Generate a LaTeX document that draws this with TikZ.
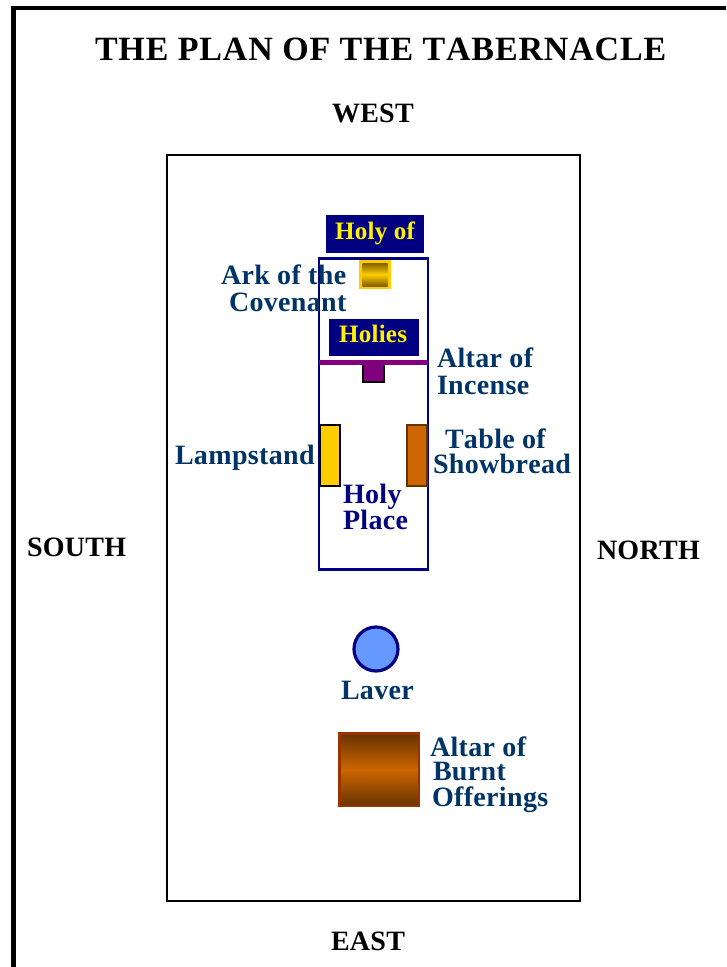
\documentclass[tikz,border=0pt]{standalone}
\usepackage{fontspec}
\setmainfont{Liberation Serif}
\newfontfamily\spacedA[LetterSpace=2.5,Kerning=Off]{Liberation Serif}
\newfontfamily\spacedB[LetterSpace=1.0]{Liberation Serif}
\newfontfamily\spacedD[LetterSpace=1.2,Kerning=Off]{Liberation Serif}
\newfontfamily\spacedC[LetterSpace=1.0,Kerning=Off]{Liberation Serif}
\definecolor{lbl}{HTML}{003366}
\definecolor{nv}{HTML}{000080}
\definecolor{gold}{HTML}{FFCC00}
\definecolor{darkgold}{HTML}{806000}
\definecolor{burnt}{HTML}{CC6600}
\definecolor{burntdark}{HTML}{663300}
\definecolor{rim}{HTML}{993300}
\definecolor{pur}{HTML}{800080}
\definecolor{water}{HTML}{6699FF}
\tikzset{
  x=0.75pt,y=-0.75pt,
  txt/.style={inner sep=0,outer sep=0,anchor=base west},
  dir/.style={txt,font=\spacedB\bfseries\fontsize{21pt}{21pt}\selectfont,text=black},
  item/.style={txt,font=\spacedD\bfseries\fontsize{21pt}{21pt}\selectfont,text=lbl},
  zonetxt/.style={txt,font=\spacedC\bfseries\fontsize{18.8pt}{18.8pt}\selectfont,text=yellow},
}
\begin{document}
\begin{tikzpicture}
\useasboundingbox (0,0) rectangle (726,967);
\draw[line width=3.6pt,black] (13.5,967) -- (13.5,8) -- (726,8);
\node[txt,font=\spacedA\bfseries\fontsize{25.5pt}{25.5pt}\selectfont,text=black] (title) at (95,60) {THE PLAN OF THE TABERNACLE};
\node[dir] (west) at (332,122) {WEST};
\node[dir] (east) at (331,950) {EAST};
\node[dir] (south) at (27,556) {SOUTH};
\node[dir] (north) at (597,559) {NORTH};
\draw[line width=1.5pt,black] (167,155) rectangle (579.5,901);
\draw[line width=1.7pt,nv] (319,258.5) rectangle (428,569.5);
\fill[nv] (326,215) rectangle (424,253);
\node[zonetxt] (holyof) at (335,239) {Holy of};
\fill[nv] (329,319) rectangle (419,356);
\node[zonetxt] (holies) at (339,342) {Holies};
% ark
\fill[gold] (359,260) rectangle (391,289);
\shade[top color=darkgold,bottom color=darkgold,middle color=gold] (362.5,263) rectangle (387.5,286);
\node[item] (ark1) at (221,284) {Ark of the};
\node[item] (ark2) at (229,311) {Covenant};
% veil
\fill[pur] (319,360) rectangle (428,365);
\draw[line width=1.5pt,black,fill=pur] (363,365) -- (363,382) -- (383.5,382) -- (383.5,365);
\node[item] (inc1) at (437,367) {Altar of};
\node[item] (inc2) at (437,394) {Incense};
% lampstand, table
\draw[line width=1.5pt,black,fill=gold] (320,425) rectangle (339.5,485.5);
\draw[line width=1.5pt,burntdark,fill=burnt] (407,425) rectangle (426.5,485.5);
\node[item] (lamp) at (175,464) {Lampstand};
\node[item] (tab1) at (445,448) {Table of};
\node[item] (tab2) at (433,473) {Showbread};
\node[item,text=nv] (hp1) at (343,503) {Holy};
\node[item,text=nv] (hp2) at (343,529) {Place};
% laver
\draw[line width=2.4pt,nv,fill=water] (376,649) circle (22);
\node[item] (laver) at (341,699) {Laver};
% altar of burnt offerings
\shade[top color=burntdark,bottom color=burntdark,middle color=burnt] (339.5,733.5) rectangle (419,806);
\draw[line width=1.8pt,rim] (339.5,733.5) rectangle (419,806);
\node[item] (alt1) at (430,756) {Altar of};
\node[item] (alt2) at (433,780) {Burnt};
\node[item] (alt3) at (432,806) {Offerings};
\end{tikzpicture}
\end{document}
